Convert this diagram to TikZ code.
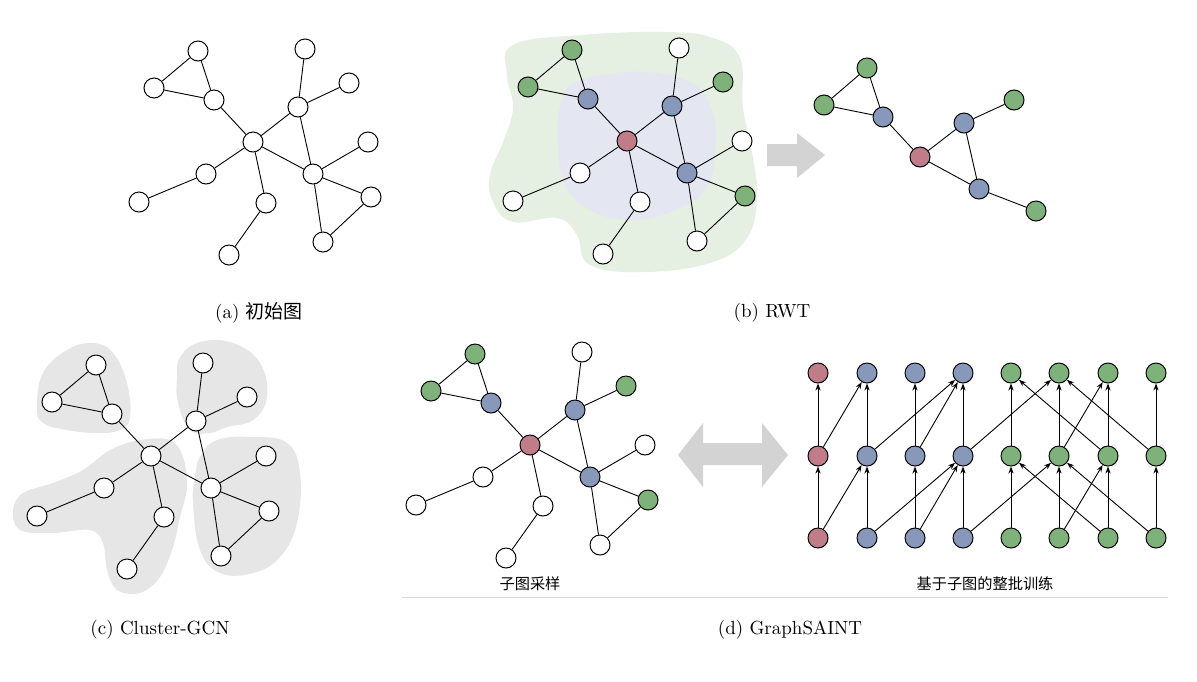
\documentclass[tikz,border=0pt]{standalone}
\usepackage{fontspec}
\newfontfamily\cjk{Noto Sans CJK SC}
\usetikzlibrary{arrows.meta}

\definecolor{vred}{RGB}{193,124,138}
\definecolor{vblue}{RGB}{135,152,186}
\definecolor{vgreen}{RGB}{127,178,122}
\definecolor{blobgray}{RGB}{230,230,230}
\definecolor{blobgreen}{RGB}{229,239,226}
\definecolor{blobblue}{RGB}{228,231,242}
\definecolor{arrowgray}{RGB}{211,211,211}

\tikzset{
  vtx/.style={circle,draw,fill=white,minimum size=10pt,inner sep=0pt,line width=0.5pt},
  edge/.style={line width=0.45pt},
  dep/.style={-{Stealth[length=3.5pt,width=2.6pt]},line width=0.45pt},
  subcap/.style={font=\fontsize{9.5}{11}\selectfont},
  smallcap/.style={font=\fontsize{7.6}{9}\selectfont\cjk},
  plain-seed/.style={}, plain-hop/.style={}, plain-far/.style={}, plain-off/.style={},
  walk-seed/.style={fill=vred}, walk-hop/.style={fill=vblue},
  walk-far/.style={fill=vgreen}, walk-off/.style={},
}

% the same graph, drawn in (a), (b), (c) and (d)
\newcommand{\basegraph}[3]{%
  \begin{scope}[shift={(#2)}]
    \foreach \n/\x/\y/\r in {c/0/0/seed,n1/-55/-91/far,n2/-99/-54/far,n3/-39/-42/hop,
        r1/45/-35/hop,rt/52/-93/off,rr/96/-59/far,r2/60/32/hop,ru/115/0/off,
        rs/118/55/far,rb/70/100/off,l1/-47/32/off,l2/-114/60/off,d1/13/61/off,d2/-24/113/off}
      \node[vtx,#3-\r] (#1\n) at (\x,\y) {};
    \foreach \u/\v in {n1/n2,n1/n3,n2/n3,n3/c,c/r1,r1/rt,r1/rr,r1/r2,c/r2,
        r2/ru,r2/rs,r2/rb,rs/rb,c/l1,l1/l2,c/d1,d1/d2}
      \draw[edge] (#1\u) -- (#1\v);
  \end{scope}}

\begin{document}
\begin{tikzpicture}[x=0.5pt,y=-0.5pt]
  \useasboundingbox (0,0) rectangle (1197,681);

  % (a)
  \basegraph{a-}{253,142}{plain}
  \node[subcap] (capa) at (259,313) {(a) {\cjk 初始图}};

  % (b) regions around the walk
  \fill[blobgreen] plot[smooth cycle,tension=0.7] coordinates {(513,45) (580,35) (667,32)
    (713,38) (740,58) (743,108) (753,158) (757,198) (747,238) (713,262) (647,272)
    (590,265) (577,235) (557,218) (513,222) (493,202) (490,175) (503,142) (513,108) (507,75)};
  \fill[blobblue] plot[smooth cycle,tension=0.7] coordinates {(580,80) (640,72) (690,82)
    (712,110) (715,150) (705,190) (670,212) (630,220) (590,210) (565,185) (558,140) (562,100)};
  \basegraph{b-}{627,141}{walk}
  \fill[arrowgray] (767,144) -- (797,144) -- (797,133) -- (825,155) -- (797,178)
    -- (797,166) -- (767,166) -- cycle;
  % sampled subgraph
  \foreach \n/\x/\y/\f in {g1/867/68/vgreen,g2/824/105/vgreen,bl/883/117/vblue,
      rc/920/157/vred,bu/964/123/vblue,g3/1014/100/vgreen,bd/979/189/vblue,g4/1036/211/vgreen}
    \node[vtx,fill=\f] (s-\n) at (\x,\y) {};
  \foreach \u/\v in {g1/g2,g1/bl,g2/bl,bl/rc,rc/bu,bu/g3,bu/bd,rc/bd,bd/g4}
    \draw[edge] (s-\u) -- (s-\v);
  \node[subcap] (capb) at (772,313) {(b) RWT};

  % (c) clusters
  \fill[blobgray] plot[smooth cycle,tension=0.7] coordinates {(37,407) (43,373) (67,350)
    (93,343) (113,353) (127,383) (130,417) (120,430) (97,433) (67,430) (43,423)};
  \fill[blobgray] plot[smooth cycle,tension=0.7] coordinates {(180,357) (200,342) (233,343)
    (260,363) (267,397) (253,420) (227,427) (210,433) (190,430) (178,403) (177,377)};
  \fill[blobgray] plot[smooth cycle,tension=0.7] coordinates {(200,457) (217,440) (253,437)
    (287,443) (300,473) (297,523) (280,557) (253,573) (220,573) (200,550) (193,503) (195,477)};
  \fill[blobgray] plot[smooth cycle,tension=0.6] coordinates {(110,450) (140,440) (170,440)
    (183,457) (187,487) (180,517) (173,547) (160,577) (140,593) (117,590) (107,570)
    (103,543) (90,530) (53,533) (20,530) (13,510) (23,493) (53,483) (83,470)};
  \basegraph{c-}{151,456}{plain}
  \node[subcap] (capc) at (160,630) {(c) Cluster-GCN};

  % (d) sampling, then full-batch training on the subgraph
  \basegraph{d-}{530,445}{walk}
  \fill[arrowgray] (678,455) -- (703,423) -- (703,443) -- (762,443) -- (762,423)
    -- (788,455) -- (762,487) -- (762,465) -- (703,465) -- (703,487) -- cycle;
  \foreach \i/\x/\f in {1/818/vred,2/867/vblue,3/915/vblue,4/963/vblue,
      5/1011/vgreen,6/1059/vgreen,7/1108/vgreen,8/1156/vgreen}
    \foreach \j/\y in {1/538,2/456,3/373}
      \node[vtx,fill=\f] (g\j\i) at (\x,\y) {};
  \foreach \l/\u in {1/2,2/3}{
    \foreach \i in {1,...,8}
      \draw[dep] (g\l\i) -- (g\u\i);
    \foreach \s/\t in {1/2,2/4,3/4,4/6,6/7,7/5,8/6}
      \draw[dep] (g\l\s) -- (g\u\t);
  }
  \node[smallcap] (lsamp) at (530,584) {子图采样};
  \node[smallcap] (ltrain) at (985,584) {基于子图的整批训练};
  \draw[black!15,line width=0.4pt] (402,597) -- (1168,597);
  \node[subcap] (capd) at (790,630) {(d) GraphSAINT};
\end{tikzpicture}
\end{document}
